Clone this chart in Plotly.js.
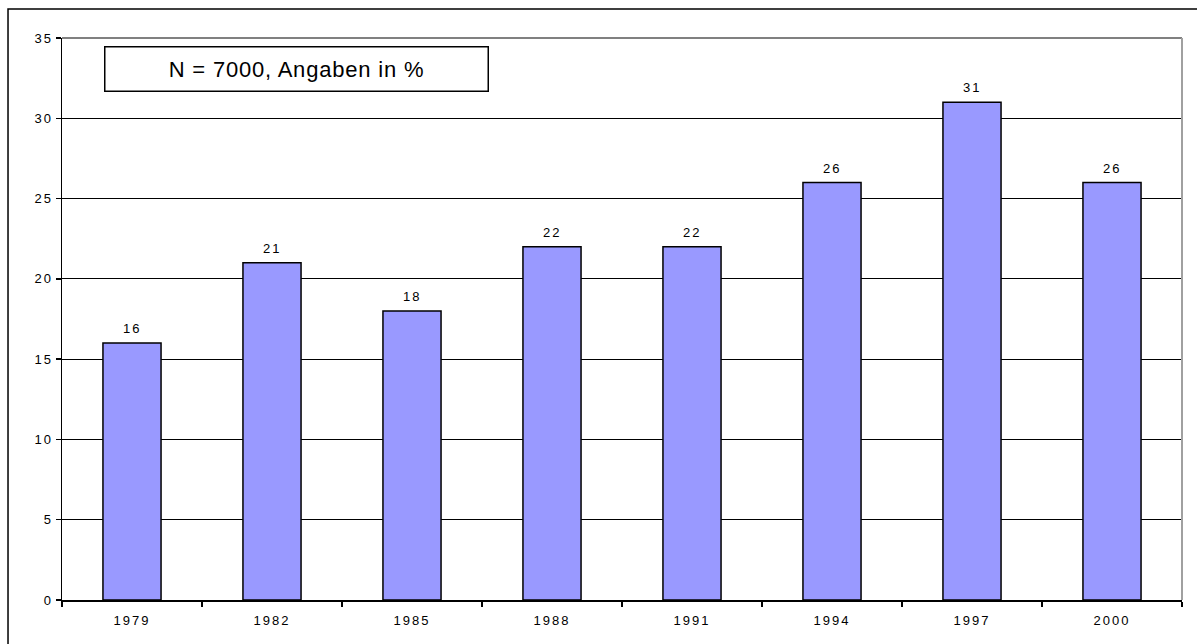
<!DOCTYPE html>
<html>
<head>
<meta charset="utf-8">
<script src="https://cdn.plot.ly/plotly-3.0.1.min.js"></script>
<style>
  html, body { margin: 0; padding: 0; background: #fff; }
  #chart { width: 1197px; height: 644px; }
  .xtick text, .ytick text { letter-spacing: 2px; }
  .annotation text { letter-spacing: 2px; }
  .annotation[data-index="0"] text { letter-spacing: 0.8px; }
</style>
</head>
<body>
<div id="chart"></div>
<script>
const years = ['1979', '1982', '1985', '1988', '1991', '1994', '1997', '2000'];
const values = [16, 21, 18, 22, 22, 26, 31, 26];
const yTicks = [0, 5, 10, 15, 20, 25, 30, 35];
const noteText = 'N = 7000, Angaben in %';

const font = 'Arial, "Liberation Sans", sans-serif';

const trace = {
  type: 'bar',
  x: years,
  y: values,
  marker: { color: '#9999FF', line: { color: '#000000', width: 1.5 } },
  cliponaxis: false,
  hoverinfo: 'x+y'
};

const noteAnnotation = {
  xref: 'paper', yref: 'paper',
  x: 0.209, y: 0.9457,
  xanchor: 'center', yanchor: 'middle',
  text: noteText,
  showarrow: false,
  width: 382, height: 43,
  align: 'center', valign: 'middle',
  bgcolor: '#ffffff',
  bordercolor: '#000',
  borderwidth: 1.5,
  borderpad: 0,
  font: { family: font, size: 22, color: '#000' }
};

// category axis positions are the serial index of each year
const valueAnnotations = years.map((yr, i) => ({
  xref: 'x', yref: 'y',
  x: i, y: values[i],
  text: String(values[i]),
  showarrow: false,
  xanchor: 'center', yanchor: 'bottom',
  yshift: 5,
  font: { family: font, size: 13, color: '#000' }
}));

const layout = {
  width: 1197,
  height: 644,
  margin: { l: 62, r: 15, t: 38, b: 44 },
  paper_bgcolor: '#ffffff',
  plot_bgcolor: '#ffffff',
  showlegend: false,
  bargap: 0.585,
  font: { family: font, size: 13, color: '#000' },
  xaxis: {
    type: 'category',
    categoryarray: years,
    showline: true,
    linecolor: '#000',
    linewidth: 1.5,
    ticks: 'outside',
    tickson: 'boundaries',
    ticklen: 5,
    tickwidth: 1.5,
    tickcolor: '#000',
    ticklabelstandoff: 8,
    tickangle: 0,
    showgrid: false,
    tickfont: { family: font, size: 13, color: '#000' }
  },
  yaxis: {
    range: [0, 35],
    tickvals: yTicks,
    ticktext: yTicks.map(String),
    showline: true,
    linecolor: '#000',
    linewidth: 1.5,
    ticks: 'outside',
    ticklen: 5,
    tickwidth: 1.5,
    tickcolor: '#000',
    showgrid: true,
    gridcolor: '#000',
    gridwidth: 1,
    zeroline: false,
    tickfont: { family: font, size: 13, color: '#000' }
  },
  shapes: [
    { type: 'line', xref: 'paper', yref: 'paper', x0: 0, x1: 1, y0: 1, y1: 1,
      line: { color: '#808080', width: 2 } },
    { type: 'line', xref: 'paper', yref: 'paper', x0: 1, x1: 1, y0: 0, y1: 1,
      line: { color: '#a0a0a0', width: 2 } },
    { type: 'rect', xref: 'paper', yref: 'paper', x0: -0.0482, x1: 1.1, y0: -0.2, y1: 1.0516,
      line: { color: '#000', width: 1.5 }, fillcolor: 'rgba(0,0,0,0)', layer: 'above' }
  ],
  annotations: [noteAnnotation].concat(valueAnnotations)
};

Plotly.newPlot('chart', [trace], layout, { displayModeBar: false, staticPlot: true });
</script>
</body>
</html>
